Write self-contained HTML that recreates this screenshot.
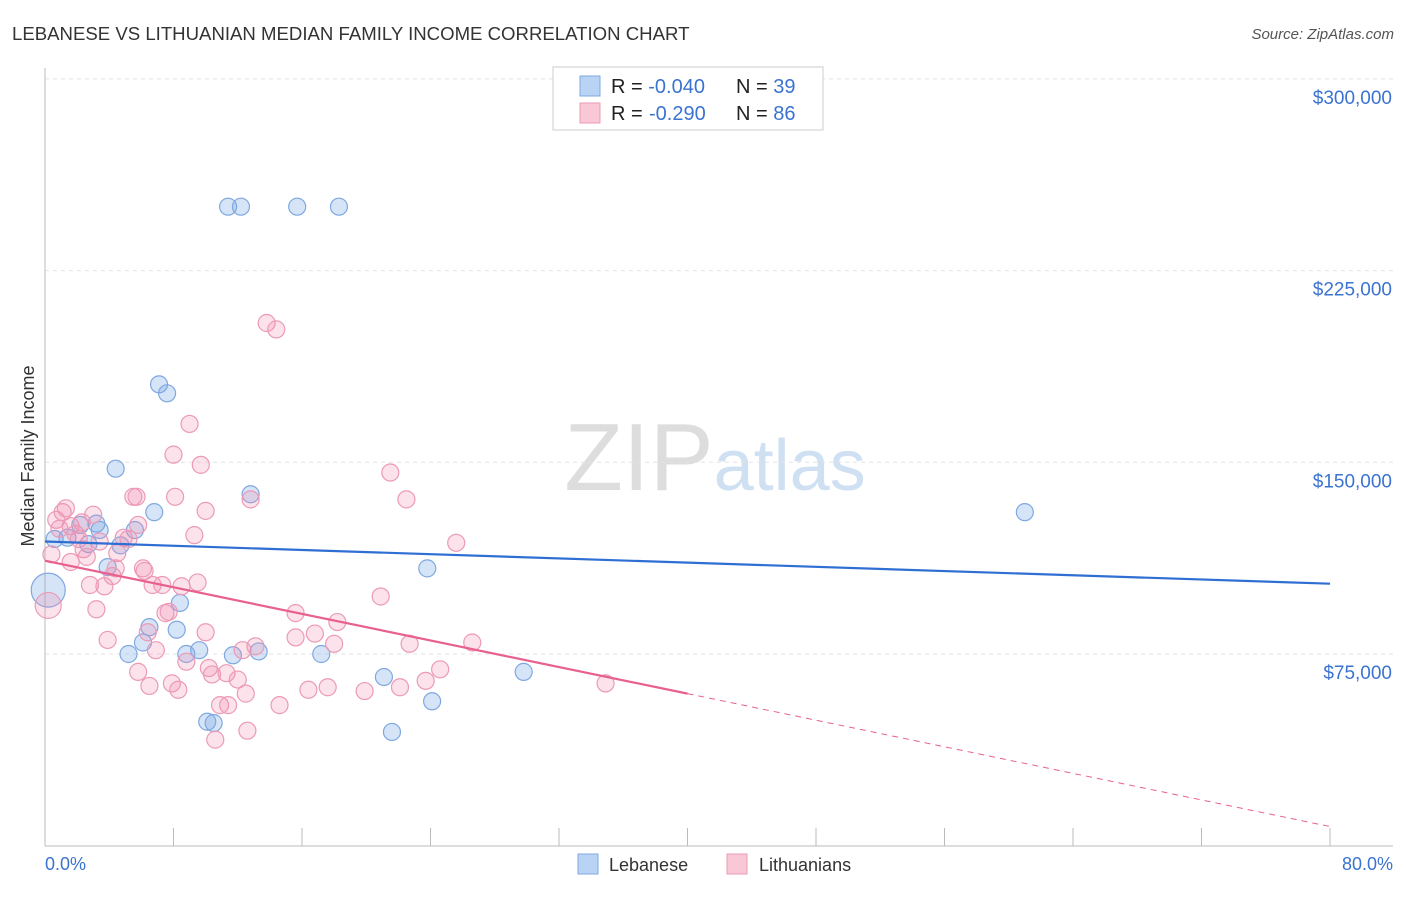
<!DOCTYPE html>
<html><head><meta charset="utf-8">
<style>
body{margin:0;background:#fff;font-family:"Liberation Sans",sans-serif;}
svg text{font-family:"Liberation Sans",sans-serif;}
</style></head>
<body>
<svg id="chart" width="1406" height="892" viewBox="0 0 1406 892">
<text x="12" y="40" font-size="18.6" fill="#333">LEBANESE VS LITHUANIAN MEDIAN FAMILY INCOME CORRELATION CHART</text>
<text x="1394" y="39" font-size="15" fill="#555" text-anchor="end" font-style="italic">Source: ZipAtlas.com</text>
<text x="715" y="490" font-size="96" fill="#ddd" text-anchor="middle" font-family="Liberation Serif"><tspan>ZIP</tspan><tspan fill="#cfe0f3" font-family="Liberation Sans" font-size="72">atlas</tspan></text>
<g id="grid"></g>
<g id="axes"></g>
<g id="marks"></g>
<text transform="translate(34,456) rotate(-90)" font-size="18" fill="#333" text-anchor="middle">Median Family Income</text>
<text x="45" y="870" font-size="18" fill="#3b73d0">0.0%</text>
<text x="1393" y="870" font-size="18" fill="#3b73d0" text-anchor="end">80.0%</text>
<g>
<rect x="553" y="67" width="270" height="63" fill="#fff" stroke="#ccc"/>
<rect x="580" y="76" width="20" height="20" fill="#b9d3f5" stroke="#7fa8e0"/>
<rect x="580" y="103" width="20" height="20" fill="#f9c8d7" stroke="#ec9ab6"/>
<text x="611" y="93" font-size="20" fill="#222">R = <tspan fill="#3b73d0">-0.040</tspan><tspan x="736">N = </tspan><tspan fill="#3b73d0">39</tspan></text>
<text x="611" y="120" font-size="20" fill="#222">R = <tspan fill="#3b73d0" x="649">-0.290</tspan><tspan x="736">N = </tspan><tspan fill="#3b73d0">86</tspan></text>
</g>
<g>
<rect x="578" y="854" width="20" height="20" fill="#b9d3f5" stroke="#7fa8e0"/>
<text x="609" y="871" font-size="18" fill="#333">Lebanese</text>
<rect x="727" y="854" width="20" height="20" fill="#f9c8d7" stroke="#ec9ab6"/>
<text x="759" y="871" font-size="18" fill="#333">Lithuanians</text>
</g>
</svg>
<script>
const yTicks=[75000,150000,225000,300000];
const yTickLabels=["$75,000","$150,000","$225,000","$300,000"];
const xTicks=[0,8,16,24,32,40,48,56,64,72,80];
const blueX=[11.4,12.2,15.7,18.3,7.1,7.6,4.4,12.8,6.8,61,3.2,2.2,3.4,5.6,0.6,1.4,2.7,4.7,3.9,23.8,8.4,6.5,8.2,6.1,5.2,8.8,9.6,11.7,13.3,17.2,21.1,29.8,24.1,10.1,10.5,21.6,0.2];
const blueY=[250000,250000,250000,250000,180500,177000,147500,137500,130500,130500,126000,125500,123500,123500,120000,120500,118000,117500,109000,108500,95000,85500,84500,79500,75000,75000,76500,74500,76000,75000,66000,68000,56500,48500,48000,44500,100000];
const pinkX=[0.2,0.4,0.7,1.1,1.3,0.9,1.6,1.9,2.1,2.4,2.6,2.8,3.2,3.4,3.7,3.9,4.2,4.4,4.5,4.9,5.2,6.4,5.5,5.8,5.8,6.1,6.2,6.5,6.7,6.9,7.3,7.5,7.7,7.9,8.1,8.0,8.3,8.5,8.8,9.0,9.3,9.5,9.7,10.0,10.0,10.2,10.4,10.6,10.9,11.3,11.4,12.0,12.3,12.5,12.6,12.8,13.1,13.8,14.4,14.6,15.6,15.6,16.4,16.8,17.6,18.0,18.2,19.9,20.9,21.5,22.1,22.5,22.7,23.7,24.6,25.6,26.6,34.9,3.0,2.3,1.6,5.7];
const pinkY=[94000,114000,127500,130500,132000,124000,125000,122000,120000,116000,113000,102000,92500,119000,101500,80500,105500,108500,114500,120500,120000,83500,136500,125500,68000,108500,107500,62500,102000,76500,102000,91000,91500,63500,136500,153000,61000,101500,72000,165000,121500,103000,149000,83500,131000,69500,67000,41500,55000,67500,55000,65000,76500,59500,45000,135500,78000,204500,202000,55000,91000,81500,61000,83000,62000,79000,87500,60500,97500,146000,62000,135500,79000,64500,69000,118500,79500,63500,129500,126500,111000,136500];
const x0=45,x1=1330,yb=845.7,ypx=191.7/75000;
const X=v=>x0+(x1-x0)*v/80, Y=v=>yb-v*ypx;
const NS="http://www.w3.org/2000/svg";
function mk(tag,attrs,parent){const e=document.createElementNS(NS,tag);for(const k in attrs)e.setAttribute(k,attrs[k]);document.getElementById(parent).appendChild(e);return e;}
yTicks.forEach((t,i)=>{
 const g=mk('line',{x1:x0,y1:Y(t),x2:1393,y2:Y(t),stroke:'#e3e3e3','stroke-dasharray':'4,4'},'grid');
 
 
 const l=mk('text',{x:1392,y:Y(t)+25,'font-size':19,fill:'#3b73d0','text-anchor':'end'},'axes');
 l.textContent=yTickLabels[i];
 
 
});
let e=mk('line',{x1:x0,y1:68,x2:x0,y2:846,stroke:'#bbb'},'axes');


e=mk('line',{x1:x0,y1:846,x2:1393,y2:846,stroke:'#bbb'},'axes');


xTicks.forEach(t=>{
 const k=mk('line',{x1:X(t),y1:828,x2:X(t),y2:846,stroke:'#bbb'},'axes');
 
 
});
blueX.forEach((v,i)=>{
 const c=mk('circle',{cx:X(v),cy:Y(blueY[i]),r:i==blueX.length-1?17:8.5,fill:'rgba(120,165,230,0.3)',stroke:'#7fa8e0','stroke-width':1.2},'marks');
 
 
});
pinkX.forEach((v,i)=>{
 const c=mk('circle',{cx:X(v),cy:Y(pinkY[i]),r:i==0?13:8.5,fill:'rgba(240,140,175,0.25)',stroke:'#ec9ab6','stroke-width':1.2},'marks');
 
 
});
const blueTrend=[119000,102500], pinkTrend=[111500,7500];
const pe=t=>pinkTrend[0]+(pinkTrend[1]-pinkTrend[0])*t/80;
e=mk('line',{x1:X(0),y1:Y(blueTrend[0]),x2:X(80),y2:Y(blueTrend[1]),stroke:'#2f6fd3','stroke-width':2.2},'marks');


e=mk('line',{x1:X(0),y1:Y(pe(0)),x2:X(40),y2:Y(pe(40)),stroke:'#e8608f','stroke-width':2.2},'marks');


e=mk('line',{x1:X(40),y1:Y(pe(40)),x2:X(80),y2:Y(pe(80)),stroke:'#e8608f','stroke-width':1,'stroke-dasharray':'6,5'},'marks');


</script>
</body></html>
